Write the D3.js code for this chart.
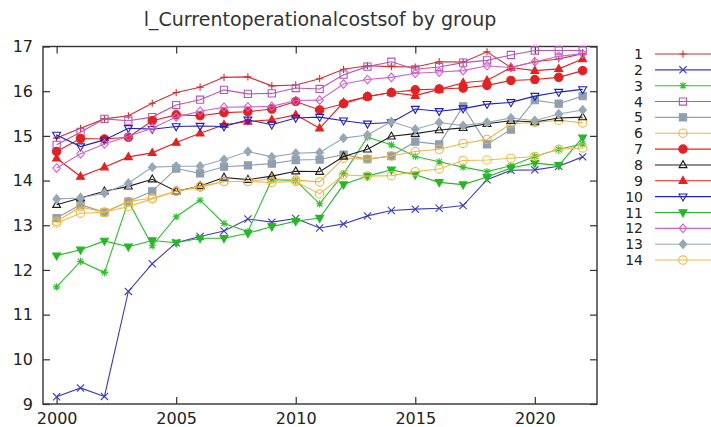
<!DOCTYPE html>
<html>
<head>
<meta charset="utf-8">
<script src="https://cdn.jsdelivr.net/npm/d3@7"></script>
<style>
  body { margin: 0; background: #fff; }
  svg { display: block; }
  text { font-family: "DejaVu Sans", Verdana, sans-serif; fill: #222; }
</style>
</head>
<body>
<svg id="chart" width="711" height="427"></svg>
<script>
// ---- data ----
const years = [2000, 2001, 2002, 2003, 2004, 2005, 2006, 2007, 2008, 2009, 2010, 2011,
               2012, 2013, 2014, 2015, 2016, 2017, 2018, 2019, 2020, 2021, 2022];
const groups = ["1", "2", "3", "4", "5", "6", "7", "8", "9", "10", "11", "12", "13", "14"];

const g1  = [14.95, 15.17, 15.38, 15.45, 15.73, 15.97, 16.09, 16.31, 16.32, 16.12, 16.14, 16.28, 16.49, 16.57, 16.55, 16.54, 16.66, 16.65, 16.88, 16.53, 16.66, 16.72, 16.84];
const g2  = [9.16, 9.36, 9.17, 11.52, 12.14, 12.61, 12.75, 12.87, 13.14, 13.07, 13.15, 12.94, 13.03, 13.21, 13.33, 13.36, 13.38, 13.44, 14.02, 14.23, 14.24, 14.32, 14.53];
const g3  = [11.62, 12.19, 11.94, 13.54, 12.54, 13.19, 13.56, 13.04, 12.86, 14.02, 14.00, 13.48, 14.15, 14.97, 14.80, 14.54, 14.42, 14.30, 14.20, 14.33, 14.54, 14.70, 14.82];
const g4  = [14.80, 15.08, 15.38, 15.34, 15.42, 15.69, 15.81, 16.03, 15.94, 15.95, 16.07, 16.05, 16.37, 16.55, 16.66, 16.49, 16.54, 16.64, 16.69, 16.81, 16.91, 16.91, 16.91];
const g5  = [13.16, 13.46, 13.29, 13.53, 13.76, 14.27, 14.16, 14.31, 14.34, 14.38, 14.46, 14.47, 14.58, 14.48, 14.55, 14.87, 14.81, 15.66, 14.81, 15.14, 15.80, 15.72, 15.89];
const g6  = [13.09, 13.41, 13.29, 13.53, 13.61, 13.76, 13.85, 13.98, 13.98, 14.04, 14.01, 13.97, 14.50, 14.48, 14.55, 14.65, 14.70, 14.83, 14.92, 15.27, 15.30, 15.35, 15.29];
const g7  = [14.65, 14.94, 14.93, 14.97, 15.34, 15.47, 15.45, 15.52, 15.54, 15.60, 15.77, 15.58, 15.72, 15.88, 15.97, 16.03, 16.05, 16.07, 16.13, 16.24, 16.26, 16.31, 16.46];
const g8  = [13.46, 13.61, 13.76, 13.87, 14.03, 13.76, 13.88, 14.07, 14.02, 14.10, 14.21, 14.20, 14.54, 14.70, 14.99, 15.05, 15.13, 15.18, 15.27, 15.34, 15.31, 15.40, 15.42];
const g9  = [14.50, 14.09, 14.30, 14.53, 14.62, 14.85, 15.06, 15.25, 15.32, 15.36, 15.47, 15.17, 15.75, 15.88, 15.97, 15.90, 16.04, 16.19, 16.24, 16.53, 16.46, 16.50, 16.72];
const g10 = [15.02, 14.76, 14.91, 15.17, 15.15, 15.21, 15.22, 15.21, 15.36, 15.25, 15.40, 15.42, 15.34, 15.27, 15.30, 15.60, 15.55, 15.61, 15.71, 15.75, 15.89, 15.98, 16.04];
const g11 = [12.32, 12.45, 12.65, 12.52, 12.66, 12.61, 12.71, 12.71, 12.82, 12.97, 13.09, 13.16, 13.91, 14.10, 14.24, 14.13, 13.96, 13.91, 14.08, 14.28, 14.39, 14.34, 14.96];
const g12 = [14.28, 14.60, 14.82, 14.99, 15.17, 15.42, 15.55, 15.64, 15.65, 15.66, 15.79, 15.80, 16.16, 16.26, 16.31, 16.40, 16.43, 16.46, 16.57, 16.53, 16.66, 16.78, 16.84];
const g13 = [13.59, 13.61, 13.72, 13.94, 14.30, 14.32, 14.32, 14.47, 14.65, 14.53, 14.61, 14.63, 14.95, 15.02, 15.32, 15.15, 15.30, 15.23, 15.30, 15.40, 15.34, 15.49, 15.58];
const g14 = [13.05, 13.27, 13.29, 13.42, 13.59, 13.76, 13.87, 13.98, 13.98, 13.96, 13.98, 13.70, 14.13, 14.10, 14.11, 14.20, 14.26, 14.45, 14.46, 14.50, 14.54, 14.70, 14.73];

const xTickValues = [2000, 2005, 2010, 2015, 2020];
const yTickValues = [9, 10, 11, 12, 13, 14, 15, 16, 17];
const titleText = "l_Currentoperationalcostsof by group";

// ---- styles ----
const seriesValues = [g1, g2, g3, g4, g5, g6, g7, g8, g9, g10, g11, g12, g13, g14];
const seriesColors = ["#d42d2d", "#3b3bc4", "#2fbf2f", "#b655b6", "#8e9fad", "#efb43e", "#e22222",
                      "#1e1e1e", "#e62020", "#2020c2", "#25b825", "#cf62cf", "#97a8b4", "#f0ba45"];
const seriesMarkers = ["plus", "cross", "star", "square", "squareFill", "circle", "circleFill",
                       "tri", "triFill", "triDown", "triDownFill", "diamond", "diamondFill", "circle"];

// ---- layout ----
const plot = { left: 43, right: 597, top: 46.5, bottom: 404 };

const svg = d3.select("#chart");

const x = d3.scaleLinear().domain([1999.43, 2022.6]).range([plot.left, plot.right]);
const y = d3.scaleLinear().domain([9, 17]).range([plot.bottom, plot.top]);

// title
svg.append("text")
  .attr("x", 320).attr("y", 26)
  .attr("text-anchor", "middle")
  .style("font-size", "19px")
  .style("fill", "#333")
  .text(titleText);

// axes (ticks pointing inward, mirrored on the opposite side)
const tickLen = 7;
const axisStyle = g => {
  g.select(".domain").remove();
  g.selectAll(".tick line").attr("stroke", "#333").attr("stroke-width", 1.2);
  g.selectAll(".tick text").style("font-size", "16px").style("fill", "#222");
};

svg.append("g")
  .attr("transform", `translate(0,${plot.bottom})`)
  .call(d3.axisBottom(x).tickValues(xTickValues).tickFormat(d3.format("d"))
        .tickSizeInner(-tickLen).tickSizeOuter(0).tickPadding(9))
  .call(axisStyle);

svg.append("g")
  .attr("transform", `translate(0,${plot.top})`)
  .call(d3.axisTop(x).tickValues(xTickValues).tickFormat("")
        .tickSizeInner(-tickLen).tickSizeOuter(0))
  .call(axisStyle);

svg.append("g")
  .attr("transform", `translate(${plot.left},0)`)
  .call(d3.axisLeft(y).tickValues(yTickValues).tickFormat(d3.format("d"))
        .tickSizeInner(-tickLen).tickSizeOuter(0).tickPadding(10))
  .call(axisStyle);

svg.append("g")
  .attr("transform", `translate(${plot.right},0)`)
  .call(d3.axisRight(y).tickValues(yTickValues).tickFormat("")
        .tickSizeInner(-tickLen).tickSizeOuter(0))
  .call(axisStyle);

// frame
svg.append("rect")
  .attr("x", plot.left).attr("y", plot.top)
  .attr("width", plot.right - plot.left).attr("height", plot.bottom - plot.top)
  .attr("fill", "none").attr("stroke", "#333").attr("stroke-width", 1.4);

// marker shapes
function markerPath(type) {
  const s = 3.6;
  switch (type) {
    case "plus": return `M${-s},0H${s}M0,${-s}V${s}`;
    case "cross": return `M${-s},${-s}L${s},${s}M${-s},${s}L${s},${-s}`;
    case "star": {
      const d = s * 0.75;
      return `M${-s},0H${s}M0,${-s}V${s}M${-d},${-d}L${d},${d}M${-d},${d}L${d},${-d}`;
    }
    case "square": case "squareFill":
      return `M${-s},${-s}H${s}V${s}H${-s}Z`;
    case "circle": case "circleFill":
      return d3.symbol(d3.symbolCircle, Math.PI * 4.2 * 4.2)();
    case "tri": case "triFill":
      return `M0,${-s * 1.2}L${s * 1.1},${s * 0.75}L${-s * 1.1},${s * 0.75}Z`;
    case "triDown": case "triDownFill":
      return `M0,${s * 1.2}L${s * 1.1},${-s * 0.75}L${-s * 1.1},${-s * 0.75}Z`;
    case "diamond": case "diamondFill":
      return `M0,${-s * 1.2}L${s * 1.05},0L0,${s * 1.2}L${-s * 1.05},0Z`;
  }
}
const isFilled = t => t.endsWith("Fill");

const line = d3.line().x((d, i) => x(years[i])).y(d => y(d));

// series
seriesValues.forEach((vals, k) => {
  const color = seriesColors[k], mk = seriesMarkers[k];
  const g = svg.append("g").attr("class", "series s" + groups[k]);
  g.append("path")
    .attr("d", line(vals))
    .attr("fill", "none")
    .attr("stroke", color)
    .attr("stroke-width", 1.1);
  g.selectAll("path.pt")
    .data(vals)
    .join("path")
    .attr("class", "pt")
    .attr("transform", (d, i) => `translate(${x(years[i])},${y(d)})`)
    .attr("d", markerPath(mk))
    .attr("fill", isFilled(mk) ? color : "none")
    .attr("stroke", color)
    .attr("stroke-width", 1.1);
});

// legend
const legend = svg.append("g").attr("class", "legend");
groups.forEach((name, k) => {
  const ly = 54 + k * 15.85;
  const color = seriesColors[k], mk = seriesMarkers[k];
  legend.append("text")
    .attr("x", 643).attr("y", ly + 5)
    .attr("text-anchor", "end")
    .style("font-size", "14px")
    .text(name);
  legend.append("line")
    .attr("x1", 655).attr("x2", 711).attr("y1", ly).attr("y2", ly)
    .attr("stroke", color).attr("stroke-width", 1.1);
  legend.append("path")
    .attr("transform", `translate(683,${ly})`)
    .attr("d", markerPath(mk))
    .attr("fill", isFilled(mk) ? color : "none")
    .attr("stroke", color)
    .attr("stroke-width", 1.1);
});
</script>
</body>
</html>
